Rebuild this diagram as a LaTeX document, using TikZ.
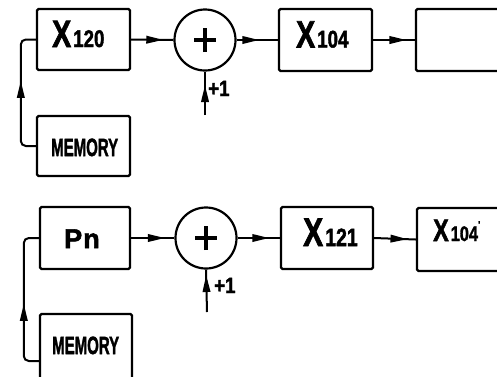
\documentclass[tikz,border=0pt]{standalone}
\usepackage{graphicx}
\usepackage{fontspec}
\setmainfont{Liberation Sans}
\newfontfamily\heavy{Liberation Sans}[FakeBold=2]
\usetikzlibrary{arrows.meta,decorations.markings}

\newcommand\fsz[1]{\fontsize{#1}{#1}\selectfont\heavy\bfseries}
\newcommand\Xlab[3]{\scalebox{0.75}[1]{\fsz{#1}X}\hspace{2pt}\scalebox{0.78}[1]{\fsz{#2}#3}}

\tikzset{
  blk/.style={draw, line width=2.4pt, rounded corners=1.5pt, inner sep=0pt},
  sumnode/.style={draw, circle, line width=2.2pt, inner sep=0pt, minimum size=61pt,
    path picture={\draw[line width=3.6pt]
      ([xshift=-11pt]path picture bounding box.center) -- ([xshift=11pt]path picture bounding box.center)
      ([yshift=-12pt]path picture bounding box.center) -- ([yshift=12pt]path picture bounding box.center);}},
  conn/.style={line width=2pt},
  arrowat/.style={postaction={decorate}, decoration={markings,
    mark=at position #1 with {\arrow{Triangle[length=17pt,width=7.5pt]}}}},
  txt/.style={inner sep=0pt, anchor=base west},
}

\begin{document}
\begin{tikzpicture}[x=1pt,y=-1pt]
\useasboundingbox (0,0) rectangle (497,376);
\fill[white] (0,0) rectangle (497,376);

% top row
\node[blk, minimum width=93pt, minimum height=61pt] (x120) at (83.5,39.5) {};
\node[sumnode] (add1) at (205,40) {};
\node[blk, minimum width=93pt, minimum height=62pt] (x104) at (325.5,40) {};
\node[blk, minimum width=94pt, minimum height=62pt] (out1) at (463,40) {};
\node[blk, minimum width=93pt, minimum height=60pt] (mem1) at (83.5,146) {};
\coordinate (in1) at (205,115);

\node[txt] (t120) at (52,47) {\Xlab{38}{24}{120}};
\node[txt] (t104) at (296,47.5) {\Xlab{38}{24}{104}};
\node[txt] (tm1) at (51,156) {\scalebox{0.6}[1]{\fsz{25}MEMORY}};
\node[txt] (p1) at (208,96) {\scalebox{0.85}[1]{\fsz{22}+1}};

\draw[conn, arrowat=0.76] (x120.east) -- (add1.west);
\draw[conn, arrowat=0.55] (add1.east) -- (x104.west);
\draw[conn, arrowat=0.8] (x104.east) -- (out1.west);
\draw[conn, arrowat=30pt] (in1) -- (add1.south);
\draw[conn, rounded corners=5pt, arrowat=78pt] (mem1.west) -- ++(-15,0) |- (x120.west);

% bottom row
\node[blk, minimum width=90pt, minimum height=62pt] (pn) at (85,238) {};
\node[sumnode] (add2) at (206,238) {};
\node[blk, minimum width=92pt, minimum height=62pt] (x121) at (327,238) {};
\node[blk, minimum width=94pt, minimum height=63pt] (x104b) at (464,239.5) {};
\node[blk, minimum width=92pt, minimum height=76pt] (mem2) at (86,352) {};
\coordinate (in2) at (207,312);

\node[txt] (tpn) at (64,248) {\scalebox{1.0}[1]{\fsz{27}P\hspace{1pt}n}};
\node[txt] (t121) at (303,246) {\Xlab{40}{25}{121}};
\node[txt] (t104b) at (433,241) {\Xlab{31}{21}{104}\raisebox{13pt}{\fsz{10}'}};
\node[txt] (tm2) at (52,354) {\scalebox{0.6}[1]{\fsz{25}MEMORY}};
\node[txt] (p2) at (214,293) {\scalebox{0.85}[1]{\fsz{22}+1}};

\draw[conn, arrowat=0.78] (pn.east) -- (add2.west);
\draw[conn, arrowat=0.75] (add2.east) -- (x121.west);
\draw[conn, arrowat=0.8] (x121.east) -- (x104b.west);
\draw[conn, arrowat=37pt] (in2) -- (add2.south);
\draw[conn, rounded corners=5pt, arrowat=70pt] ([yshift=-9pt]mem2.west) -- ++(-15,0) |- (pn.west);
\end{tikzpicture}
\end{document}
